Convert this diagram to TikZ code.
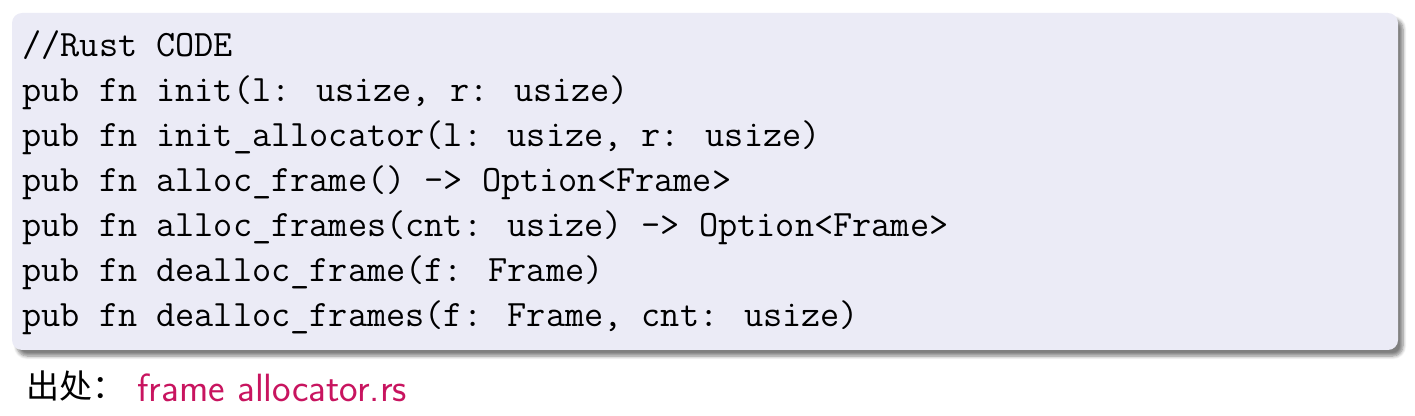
\documentclass[tikz,border=0pt]{standalone}
\usepackage{fontspec}
\newfontfamily\cjk{Noto Sans CJK SC}
\usetikzlibrary{shadows.blur}
\definecolor{codebg}{RGB}{235,235,246}
\definecolor{srccolor}{RGB}{200,20,95}
\tikzset{
  codeline/.style={anchor=base west, inner sep=0pt, font=\fontsize{18.6}{23}\selectfont\ttfamily},
  codebox/.style={fill=codebg, draw=none, rounded corners=5pt,
    blur shadow={shadow xshift=2.5pt, shadow yshift=-3pt, shadow blur steps=6, shadow opacity=50}},
  srclabel/.style={anchor=base west, inner sep=0pt, font=\fontsize{16.5}{18}\selectfont\cjk},
  srcfile/.style={anchor=base west, inner sep=0pt, text=srccolor, font=\fontsize{19.7}{22}\selectfont\sffamily}
}
\begin{document}
\begin{tikzpicture}[x=0.5pt,y=-0.5pt]
\useasboundingbox (0,0) rectangle (1415,416);
\path[codebox] (12,13) rectangle (1398,350);
\node[codeline] (l1) at (22,57) {//Rust CODE};
\node[codeline] (l2) at (22,102) {pub fn init(l: usize, r: usize)};
\node[codeline] (l3) at (22,147) {pub fn init\_allocator(l: usize, r: usize)};
\node[codeline] (l4) at (22,192) {pub fn alloc\_frame() -> Option<Frame>};
\node[codeline] (l5) at (22,237) {pub fn alloc\_frames(cnt: usize) -> Option<Frame>};
\node[codeline] (l6) at (22,282) {pub fn dealloc\_frame(f: Frame)};
\node[codeline] (l7) at (22,327) {pub fn dealloc\_frames(f: Frame, cnt: usize)};
\node[srclabel] (src) at (26,399) {出处：};
\node[srcfile] (file) at (137,402) {frame allocator.rs};
\end{tikzpicture}
\end{document}
